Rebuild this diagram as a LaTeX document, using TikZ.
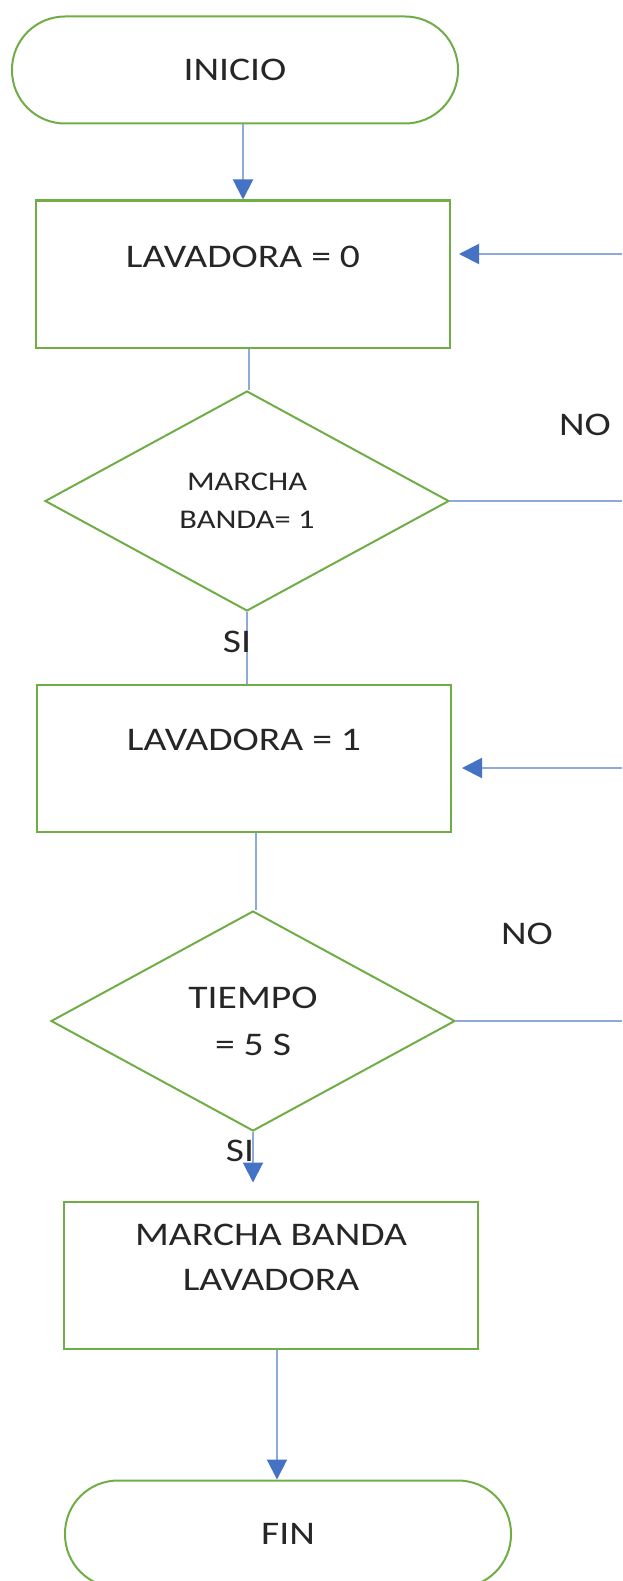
\documentclass[tikz,border=0pt]{standalone}
\usepackage{fontspec}
\setmainfont{Carlito}[FakeStretch=1.2]
\usetikzlibrary{shapes.geometric,arrows.meta,positioning}

\definecolor{verde}{HTML}{70AD47}
\definecolor{azul}{HTML}{4472C4}
\definecolor{azulclaro}{HTML}{8EA9DB}
\definecolor{negro}{HTML}{262626}

\tikzset{
  terminal/.style={draw=verde, line width=2pt, rounded corners=53pt,
    minimum width=446pt, minimum height=107pt, text=negro,
    font=\fontsize{33}{40}\selectfont},
  proceso/.style={draw=verde, line width=2pt, minimum width=414pt,
    minimum height=147pt},
  decision/.style={diamond, draw=verde, line width=2pt, inner sep=0pt,
    shape aspect=1.8, minimum width=404pt, minimum height=220pt,
    align=center, text=negro},
  rotulo/.style={inner sep=0pt, align=center, text=negro,
    font=\fontsize{33}{45}\selectfont},
  linea/.style={draw=azulclaro, line width=2pt},
  flecha/.style={linea, -{Triangle[length=20pt, width=20pt, color=azul]}}
}

\begin{document}
\begin{tikzpicture}[x=1pt, y=-1pt]
  \useasboundingbox (0,0) rectangle (622,1581);

  % bloques del diagrama
  \node[terminal] (inicio) at (235,70) {INICIO};
  \node[proceso] (lav0) at (243,274) {};
  \node[rotulo] (lav0txt) at (243,257) {LAVADORA = 0};
  \node[decision, font=\fontsize{27}{38}\selectfont] (marcha) at (247,501)
    {MARCHA\\BANDA= 1};
  \node[proceso] (lav1) at (244,758) {};
  \node[rotulo] (lav1txt) at (244,740) {LAVADORA = 1};
  \node[decision, font=\fontsize{33}{47}\selectfont] (tiempo) at (253,1021)
    {TIEMPO\\= 5 S};
  \node[proceso] (banda) at (271,1275) {};
  \node[rotulo] (bandatxt) at (271,1257) {MARCHA BANDA\\LAVADORA};
  \node[terminal] (fin) at (288,1534) {FIN};

  % retornos por la derecha
  \coordinate (ret0) at (622,254);
  \coordinate (sal0) at (622,501);
  \coordinate (ret1) at (622,768);
  \coordinate (sal1) at (622,1021);

  % conexiones
  \draw[flecha] (inicio.south -| lav0.north) -- (lav0.north);
  \draw[linea] ([xshift=6pt]lav0.south) -- ([xshift=6pt]lav0.south |- marcha.north);
  \draw[linea] (marcha.south) -- (marcha.south |- lav1.north);
  \draw[linea] (marcha.east) -- (sal0);
  \draw[flecha, shorten >=8pt] (ret0) -- (ret0 -| lav0.east);
  \draw[linea] ([xshift=12pt]lav1.south) -- ([xshift=12pt]lav1.south |- tiempo.north);
  \draw[linea] (tiempo.east) -- (sal1);
  \draw[flecha, shorten >=10pt] (ret1) -- (ret1 -| lav1.east);
  \draw[flecha, shorten >=18pt] (tiempo.south) -- (tiempo.south |- banda.north);
  \draw[flecha] ([xshift=6pt]banda.south) -- ([xshift=6pt]banda.south |- fin.north);

  % etiquetas SI / NO
  \node[rotulo] (no0) at (585,425) {NO};
  \node[rotulo] (si0) at (237,642) {SI};
  \node[rotulo] (no1) at (527,934) {NO};
  \node[rotulo] (si1) at (240,1151) {SI};
\end{tikzpicture}
\end{document}
